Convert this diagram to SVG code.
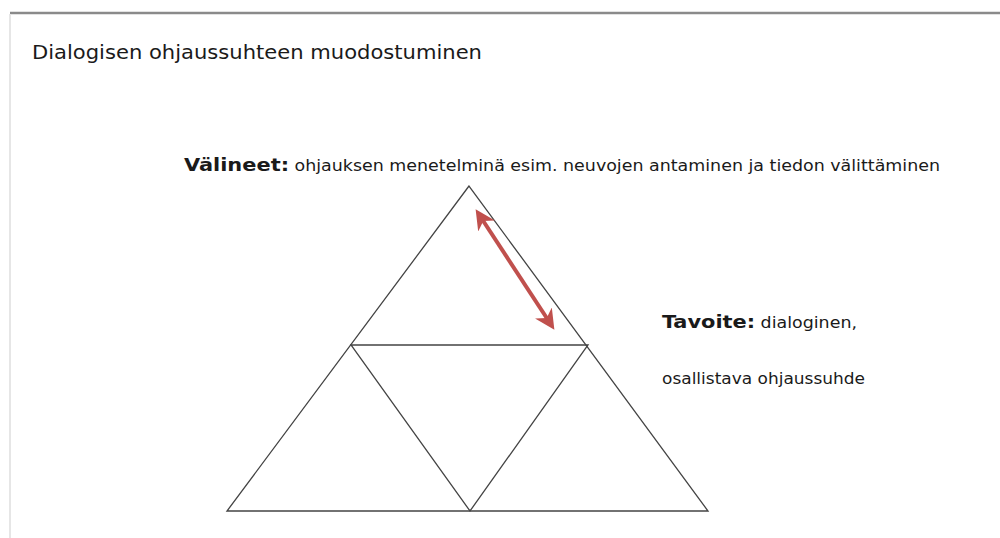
<svg xmlns="http://www.w3.org/2000/svg" width="1000" height="538" viewBox="0 0 1000 538">
<style>
.t{font-family:"DejaVu Sans Condensed","DejaVu Sans",sans-serif;fill:#1a1a1a}
.b{font-weight:bold}
.edge{stroke:#444;stroke-width:1.3;fill:none}
</style>
<defs>
<marker id="ah" viewBox="0 0 10 10" refX="6" refY="5" markerWidth="5" markerHeight="5" orient="auto-start-reverse" markerUnits="strokeWidth">
<path d="M0,0 L10,5 L0,10 L3,5 z" fill="#c0504d"/>
</marker>
</defs>
<rect width="1000" height="538" fill="#fff"/>
<g id="frame">
<line x1="10" y1="13" x2="1000" y2="13" stroke="#8a8a8a" stroke-width="2.5"/>
<line x1="10" y1="14" x2="10" y2="538" stroke="#e6e6e6" stroke-width="2"/>
</g>
<g id="title"><text class="t" x="32" y="59" font-size="19" textLength="450" lengthAdjust="spacingAndGlyphs">Dialogisen ohjaussuhteen muodostuminen</text></g>
<g id="triangle">
<polygon class="edge" points="469,186 227,511 708,511"/>
<polygon class="edge" points="351,345 588,345 470,511"/>
</g>
<g id="connectors">
<line x1="480" y1="216" x2="550" y2="323" stroke="#c0504d" stroke-width="4" marker-start="url(#ah)" marker-end="url(#ah)"/>
</g>
<g id="valineet">
<text class="t" x="184" y="171" font-size="15" textLength="756" lengthAdjust="spacingAndGlyphs"><tspan class="b" font-size="18">Välineet:</tspan> ohjauksen menetelminä esim. neuvojen antaminen ja tiedon välittäminen</text>
</g>
<g id="tavoite">
<text class="t" x="662" y="328" font-size="15" textLength="195" lengthAdjust="spacingAndGlyphs"><tspan class="b" font-size="18">Tavoite:</tspan> dialoginen,</text>
<text class="t" x="662" y="384" font-size="15" textLength="203" lengthAdjust="spacingAndGlyphs">osallistava ohjaussuhde</text>
</g>
</svg>
